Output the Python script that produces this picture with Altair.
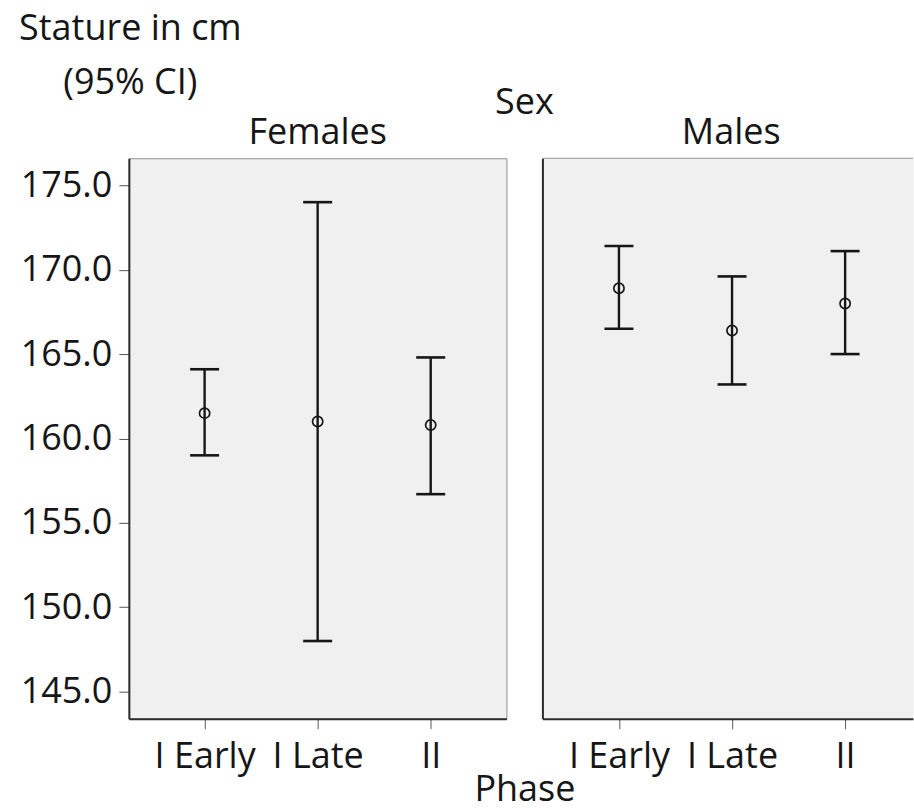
import altair as alt
import pandas as pd

# Mean stature with 95% confidence interval, by sex and phase
phases = ["I Early", "I Late", "II"]
sexes = ["Females", "Males"]

female_mean = [161.5, 161.0, 160.8]
female_lower = [159.0, 148.0, 156.7]
female_upper = [164.1, 174.0, 164.8]

male_mean = [168.9, 166.4, 168.0]
male_lower = [166.5, 163.2, 165.0]
male_upper = [171.4, 169.6, 171.1]

y_ticks = [145, 150, 155, 160, 165, 170, 175]
y_domain = [143.4, 176.6]

FONT = "Open Sans"
SIZE = 36
INK = "#161616"
AXIS_INK = "#2b2b2b"
FRAME = "#909090"
PANEL = "#f0f0f0"


def table(mean, lower, upper):
    return pd.DataFrame({"Phase": phases, "Mean": mean, "Lower": lower, "Upper": upper})


def label_layer(text, x, y):
    return alt.Chart(pd.DataFrame({"label": [text]})).mark_text(
        font=FONT, fontSize=SIZE, color=INK, align="center", baseline="alphabetic"
    ).encode(x=alt.value(x), y=alt.value(y), text="label:N")


def panel(df, x_scale, x_axis, y_axis, header):
    base = alt.Chart(df)
    y_scale = alt.Scale(domain=y_domain, nice=False, zero=False)
    x = alt.X("Phase:N", sort=phases, scale=x_scale, axis=x_axis)

    whisker = base.mark_rule(color=INK, strokeWidth=2.4).encode(
        x=x,
        y=alt.Y("Lower:Q", scale=y_scale, axis=y_axis),
        y2="Upper:Q",
    )
    low_cap = base.mark_tick(color=INK, thickness=2.6, size=29, opacity=1).encode(
        x=x, y=alt.Y("Lower:Q", scale=y_scale, axis=y_axis)
    )
    high_cap = base.mark_tick(color=INK, thickness=2.6, size=29, opacity=1).encode(
        x=x, y=alt.Y("Upper:Q", scale=y_scale, axis=y_axis)
    )
    mean = base.mark_point(
        shape="circle", filled=False, size=105, strokeWidth=1.7, color=INK, opacity=1
    ).encode(x=x, y=alt.Y("Mean:Q", scale=y_scale, axis=y_axis))

    head = label_layer(header, 189, -14)
    return [whisker, low_cap, high_cap, mean, head]


common_axis = dict(
    grid=False,
    domainColor=AXIS_INK,
    domainWidth=2,
    tickColor="#555555",
    tickWidth=1,
    tickSize=10,
    labelFont=FONT,
    labelFontSize=SIZE,
    labelColor=INK,
    titleFont=FONT,
    titleFontSize=SIZE,
    titleFontWeight="normal",
    titleColor=INK,
)

left_x_axis = alt.Axis(
    labelAngle=0,
    labelPadding=11,
    title="Phase",
    titleX=396,
    titleY=82,
    titleAlign="center",
    titleBaseline="alphabetic",
    **common_axis,
)
right_x_axis = alt.Axis(labelAngle=0, labelPadding=11, title=None, **common_axis)

left_y_axis = alt.Axis(
    values=y_ticks,
    format=".1f",
    labelPadding=7,
    title=["Stature in cm", "(95% CI)"],
    titleAngle=0,
    titleAlign="center",
    titleBaseline="alphabetic",
    titleX=1,
    titleY=-119,
    titleLineHeight=54,
    **common_axis,
)
right_y_axis = alt.Axis(
    values=y_ticks, labels=False, ticks=False, title=None, **common_axis
)

left_layers = panel(
    table(female_mean, female_lower, female_upper),
    alt.Scale(type="point", padding=0.67),
    left_x_axis,
    left_y_axis,
    sexes[0],
)
left_layers.append(label_layer("Sex", 396, -44))
left = alt.layer(*left_layers).properties(width=378, height=561)

right_layers = panel(
    table(male_mean, male_lower, male_upper),
    alt.Scale(type="point", padding=0.6386, align=0.53),
    right_x_axis,
    right_y_axis,
    sexes[1],
)
# top edge of the right-hand panel frame
right_layers.append(
    alt.Chart(pd.DataFrame({"edge": [0]}))
    .mark_rule(color=FRAME, strokeWidth=1)
    .encode(x=alt.value(0), x2=alt.value("width"), y=alt.value(0))
)
right = alt.layer(*right_layers).properties(
    width=371, height=561, view=alt.ViewBackground(stroke="transparent", fill=PANEL)
)

chart = (
    alt.hconcat(left, right, spacing=36, bounds="flush")
    .properties(padding={"left": 18, "top": 9, "right": 0, "bottom": 0}, background="white")
    .configure_view(fill=PANEL, stroke=FRAME, strokeWidth=1)
)

chart.save("out.html", embed_options={"renderer": "svg", "actions": False})
